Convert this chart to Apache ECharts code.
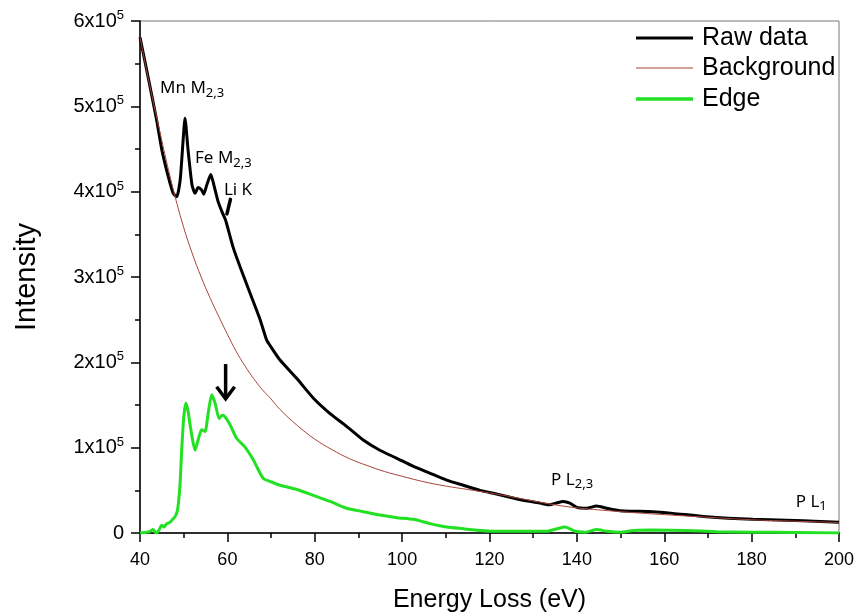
<!DOCTYPE html>
<html><head><meta charset="utf-8">
<script src="https://cdn.jsdelivr.net/npm/echarts@6/dist/echarts.min.js"></script>
<style>html,body{margin:0;padding:0;background:#fff}#c{width:859px;height:616px}</style>
</head><body><div id="c"></div>
<script>
// Raw data (black)
const rawEnergy = [40,42.3,43.8,45.0,46.5,47.6,48.4,49.2,49.8,50.3,51.0,51.9,52.6,53.3,54.1,54.6,55.3,56.2,56.9,57.9,58.8,59.5,59.8,61.3,62.9,65.2,67.5,69.0,70.0,72.0,75.9,79.7,83.5,87.3,91.1,94.9,98.8,102.6,106.4,110.2,114.0,117.8,121.6,125.4,128.0,131.6,133.8,135.2,136.9,138.4,140.0,142.2,144.5,146.8,149.9,153.0,157.4,162.0,169.7,180.3,191.8,200];
const rawIntensity = [581000,523000,484000,449000,417000,398000,394000,414000,455000,486000,449000,408000,398000,405000,402000,397000,408000,420000,408000,388000,376000,368000,363000,335000,312000,281000,250000,226000,218000,203000,181000,158000,140000,125000,109000,97000,87500,78000,70000,62000,56000,50000,45700,41000,38000,35000,33000,35000,37000,35000,30000,29000,31600,29000,26000,25500,25000,23000,19000,16000,14400,12500];
// Background (brown)
const bgEnergy = [40,42,44,46,48,50,52,54,56,58,60,62,64,66,68,70,72,76,80,84,88,92,96,100,105,110,115,120,125,130,135,140,150,160,170,180,190,200];
const bgIntensity = [581000,530000,483000,437000,395000,358000,327000,300000,276000,254000,233000,213000,196000,181000,168000,157000,145000,126000,110000,97500,87000,79000,72000,66500,60000,55000,51000,47000,42500,37500,33000,29500,25000,21500,18500,15500,13800,12300];
// Edge (green)
const edgeEnergy = [40,41.5,42.3,43.0,43.5,43.8,44.3,45.0,45.5,46.1,46.7,47.3,48.0,48.5,48.8,49.2,49.5,50.0,50.5,51.0,51.4,52.0,52.6,53.3,54.1,54.9,55.6,56.4,57.2,58.1,58.8,59.5,60.6,62.1,64.0,65.9,68.2,70,72.0,75.9,79.7,83.5,87.3,91.1,94.9,98.8,102.6,106.4,110.2,114,117.8,122,127,133,135.5,137.3,139.6,142,144.5,147,150,153,157.4,165,172,180,190,200];
const edgeIntensity = [0,1000,2000,4000,1000,0,3000,9000,7000,11000,12000,15000,19000,25000,35000,60000,93000,135000,152000,143000,129000,110000,97000,109000,121000,119000,140000,162000,152000,134000,138000,136000,127000,111000,101000,86000,64000,60000,56000,51000,44000,37000,29000,25000,21000,18000,16000,11000,7000,5000,3000,2000,2000,2000,5000,7000,2000,1000,4000,2000,1000,3000,3500,3000,1500,1000,500,0];
// Axis ticks
const xTicks = [40,60,80,100,120,140,160,180,200];
const yTicks = [0,100000,200000,300000,400000,500000,600000];
const seriesNames = ['Raw data','Background','Edge'];
// Annotations (energy, intensity anchor)
const annotations = [
  {main:'Mn M', sub:'2,3', e:44.6, i:521000},
  {main:'Fe M', sub:'2,3', e:52.6, i:439000},
  {main:'Li K', sub:'', e:59.2, i:402000},
  {main:'P L', sub:'2,3', e:134.1, i:62000},
  {main:'P L', sub:'1', e:190.1, i:36000}
];

const pairs = (xs, ys) => xs.map((x, k) => [x, ys[k]]);
const chart = echarts.init(document.getElementById('c'), null, {renderer:'canvas'});
const FONT = 'Liberation Sans, Arial, sans-serif';
const legendText = {fontFamily:FONT, fontSize:25, color:'#000', lineHeight:26, padding:[0,0,0,4]};
const mkLegend = (name, top, h) => ({
  left:636, top:top, padding:0, icon:'rect', itemWidth:57, itemHeight:h,
  data:[name], textStyle:legendText, selectedMode:false
});

chart.setOption({
  animation:false,
  backgroundColor:'#fff',
  grid:{left:140, right:20, top:21, bottom:83, containLabel:false, outerBoundsMode:'none',
        show:true, borderColor:'#777', borderWidth:1},
  legend:[
    mkLegend(seriesNames[0], 25, 3),
    mkLegend(seriesNames[1], 55, 1),
    mkLegend(seriesNames[2], 86, 3.5)
  ],
  xAxis:{
    type:'value', min:xTicks[0], max:xTicks[xTicks.length-1], interval:20,
    name:'Energy Loss (eV)', nameLocation:'middle', nameGap:55,
    nameTextStyle:{fontFamily:FONT, fontSize:25, color:'#000'},
    axisLine:{show:true, onZero:false, lineStyle:{color:'#000', width:1.5}},
    axisTick:{show:true, inside:false, length:9, lineStyle:{color:'#000', width:1.5}},
    minorTick:{show:true, splitNumber:2, length:5, lineStyle:{color:'#000', width:1.5}},
    splitLine:{show:false},
    axisLabel:{fontFamily:FONT, fontSize:18, color:'#000', margin:18}
  },
  yAxis:{
    type:'value', min:yTicks[0], max:yTicks[yTicks.length-1], interval:100000,
    name:'Intensity', nameLocation:'middle', nameGap:99,
    nameTextStyle:{fontFamily:FONT, fontSize:29, color:'#000'},
    axisLine:{show:true, onZero:false, lineStyle:{color:'#000', width:1.5}},
    axisTick:{show:true, inside:false, length:9, lineStyle:{color:'#000', width:1.5}},
    minorTick:{show:true, splitNumber:2, length:5, lineStyle:{color:'#000', width:1.5}},
    splitLine:{show:false},
    axisLabel:{
      margin:16,
      formatter:function(v){ return v===0 ? '{a|0}' : '{a|'+(v/100000)+'x10}{s|5}'; },
      rich:{
        a:{fontFamily:FONT, fontSize:20, color:'#000', lineHeight:24},
        s:{fontFamily:FONT, fontSize:13, color:'#000', verticalAlign:'top', lineHeight:13}
      }
    }
  },
  series:[
    {name:seriesNames[0], type:'line', data:pairs(rawEnergy, rawIntensity), showSymbol:false, symbol:'none', smooth:0.2,
     lineStyle:{color:'#000', width:3}, itemStyle:{color:'#000'}, z:3},
    {name:seriesNames[1], type:'line', data:pairs(bgEnergy, bgIntensity), showSymbol:false, symbol:'none', smooth:0.4,
     lineStyle:{color:'#a8443c', width:1}, itemStyle:{color:'#a8443c'}, z:4},
    {name:seriesNames[2], type:'line', data:pairs(edgeEnergy, edgeIntensity), showSymbol:false, symbol:'none', smooth:0.2,
     lineStyle:{color:'#22e022', width:3}, itemStyle:{color:'#22e022'}, z:5}
  ]
});

const px = (e, i) => chart.convertToPixel({gridIndex:0}, [e, i]);
const AFONT = 'Noto Sans, Open Sans, sans-serif';
const graphics = annotations.map(a => {
  const p = px(a.e, a.i);
  return {
    type:'text', x:p[0], y:p[1], z:20,
    style:{
      text: a.sub ? '{m|'+a.main+'}{b|'+a.sub+'}' : '{m|'+a.main+'}',
      rich:{
        m:{fontFamily:AFONT, fontSize:17, fill:'#000', lineHeight:22},
        b:{fontFamily:AFONT, fontSize:13, fill:'#000', verticalAlign:'bottom', lineHeight:13}
      },
      verticalAlign:'middle', align:'left'
    }
  };
});
// Li K marker tick
const t1 = px(60.7, 391000), t2 = px(59.9, 374000);
graphics.push({type:'line', z:20, shape:{x1:t1[0], y1:t1[1], x2:t2[0], y2:t2[1]}, style:{stroke:'#000', lineWidth:3.5, lineCap:'round'}});
// Arrow pointing at Li K edge
const aTop = px(59.6, 198000), aTip = px(59.6, 155000);
graphics.push({type:'line', z:20, shape:{x1:aTop[0], y1:aTop[1], x2:aTip[0], y2:aTip[1]-2}, style:{stroke:'#000', lineWidth:3.5}});
graphics.push({type:'polyline', z:20, shape:{points:[[aTip[0]-9, aTip[1]-14],[aTip[0], aTip[1]-2],[aTip[0]+9, aTip[1]-14]]}, style:{stroke:'#000', lineWidth:3.5, fill:null}});
chart.setOption({graphic:graphics});
</script>
</body></html>
